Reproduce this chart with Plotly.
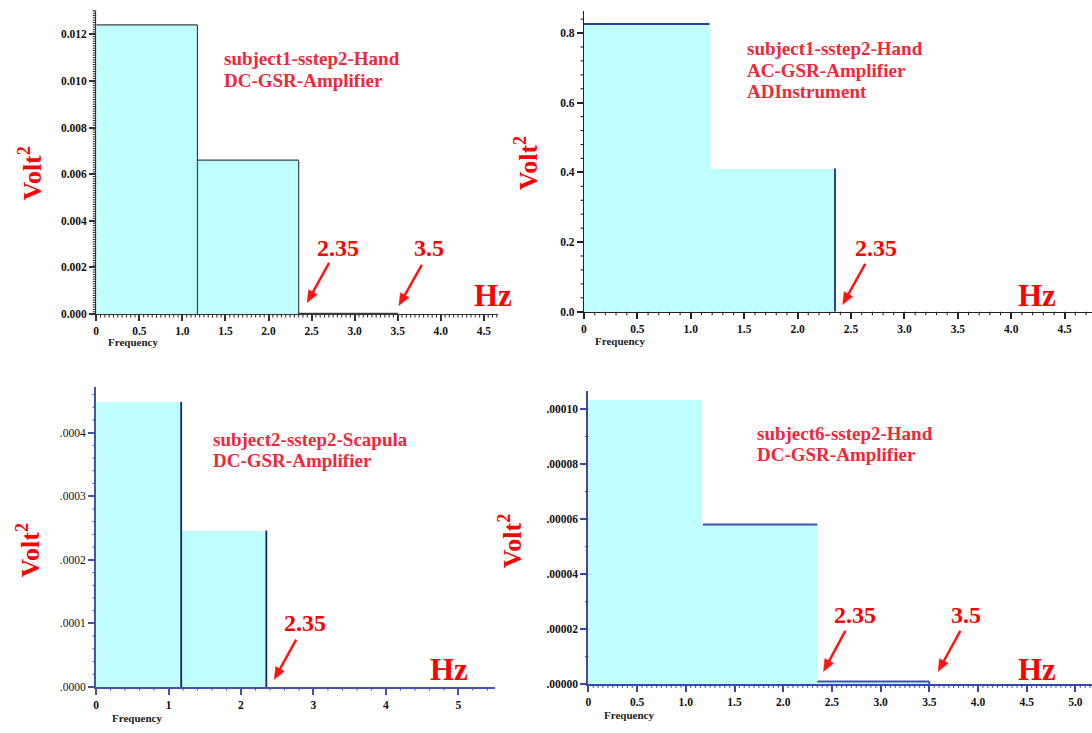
import math
import numpy as np
import plotly.graph_objects as go

# ---- spectral power per frequency band (Volt^2) ----
tl_edges = [0.0, 1.175, 2.35, 3.5]
tl_power = [0.01240, 0.00660, 0.00003]

tr_edges = [0.0, 1.175, 2.35]
tr_power = [0.826, 0.411]

bl_edges = [0.0, 1.175, 2.35]
bl_power = [0.000448, 0.000246]

br_edges = [0.0, 1.175, 2.35, 3.5]
br_power = [0.0001033, 0.0000580, 0.0000010]

# ---- tick labels ----
tl_xvals = [0, 0.5, 1.0, 1.5, 2.0, 2.5, 3.0, 3.5, 4.0, 4.5]
tl_xtext = ["0", "0.5", "1.0", "1.5", "2.0", "2.5", "3.0", "3.5", "4.0", "4.5"]
tl_yvals = [0, 0.002, 0.004, 0.006, 0.008, 0.010, 0.012]
tl_ytext = ["0.000", "0.002", "0.004", "0.006", "0.008", "0.010", "0.012"]

tr_xvals = tl_xvals
tr_xtext = tl_xtext
tr_yvals = [0, 0.2, 0.4, 0.6, 0.8]
tr_ytext = ["0.0", "0.2", "0.4", "0.6", "0.8"]

bl_xvals = [0, 1, 2, 3, 4, 5]
bl_xtext = ["0", "1", "2", "3", "4", "5"]
bl_yvals = [0, 0.0001, 0.0002, 0.0003, 0.0004]
bl_ytext = [".0000", ".0001", ".0002", ".0003", ".0004"]

br_xvals = [0, 0.5, 1.0, 1.5, 2.0, 2.5, 3.0, 3.5, 4.0, 4.5, 5.0]
br_xtext = ["0", "0.5", "1.0", "1.5", "2.0", "2.5", "3.0", "3.5", "4.0", "4.5", "5.0"]
br_yvals = [0, 0.00002, 0.00004, 0.00006, 0.00008, 0.00010]
br_ytext = [".00000", ".00002", ".00004", ".00006", ".00008", ".00010"]

# ---- panel titles ----
tl_title = ["subject1-sstep2-Hand", "DC-GSR-Amplifier"]
tr_title = ["subject1-sstep2-Hand", "AC-GSR-Amplifier", "ADInstrument"]
bl_title = ["subject2-sstep2-Scapula", "DC-GSR-Amplifier"]
br_title = ["subject6-sstep2-Hand", "DC-GSR-Amplifier"]

W, H = 1092, 733
FILL = "#bfffff"
SERIF = "Liberation Serif"
RED = "#ff0000"
TITLE_RED = "#f0283a"


def px(x):
    return x / W


def py(y):
    return 1 - y / H


def outline(edges, power, parts):
    """Line segments along chosen sides of the bars (None-separated)."""
    xs, ys = [], []
    for i, side in parts:
        x0, x1, v = edges[i], edges[i + 1], power[i]
        if side == "top":
            xs += [x0, x1, None]
            ys += [v, v, None]
        elif side == "right":
            xs += [x1, x1, None]
            ys += [0, v, None]
    return xs, ys


fig = go.Figure()
shapes = []
ann = []

panels = [
    dict(edges=tl_edges, power=tl_power, xd=[93.5, 496], xr=[0, 4.66],
         yd=[316.7, 11], yr=[0, 0.0130], xt=(tl_xvals, tl_xtext), yt=(tl_yvals, tl_ytext),
         ac="#333333", aw=1.2, xm=0.05, ym=0.0001, bold=True,
         parts=[(0, "top"), (0, "right"), (1, "top"), (1, "right"), (2, "top"), (2, "right")],
         lc="#404040", lw=1.2),
    dict(edges=tr_edges, power=tr_power, xd=[582.6, 1092], xr=[0, 4.756],
         yd=[314.3, 11], yr=[0, 0.8635], xt=(tr_xvals, tr_xtext), yt=(tr_yvals, tr_ytext),
         ac="#222222", aw=1.2, xm=0.1, ym=0.04, bold=True,
         parts=[(0, "top"), (1, "right")], lc="#2f3d9c", lw=2),
    dict(edges=bl_edges, power=bl_power, xd=[93.3, 493.7], xr=[0, 5.51],
         yd=[692.7, 390], yr=[0, 0.000472], xt=(bl_xvals, bl_xtext), yt=(bl_yvals, bl_ytext),
         ac="#4652b0", aw=2, xm=0.2, ym=0.00002, bold=False,
         parts=[(0, "right"), (1, "right")], lc="#1b1f6e", lw=1.8),
    dict(edges=br_edges, power=br_power, xd=[587, 1092], xr=[0, 5.17],
         yd=[690, 394], yr=[0, 0.0001066], xt=(br_xvals, br_xtext), yt=(br_yvals, br_ytext),
         ac="#3a48a8", aw=2, xm=0.05, ym=0.00001, bold=True,
         parts=[(1, "top"), (2, "top"), (2, "right")], lc="#4452ac", lw=2),
]


def minor_marks(p, values, length, width, on_x):
    """Short outward minor tick marks placed through the axis scale."""
    x0p, x1p = p["xd"]
    y0p, y1p = p["yd"]
    for v in values:
        if on_x:
            xp = x0p + (v - p["xr"][0]) / (p["xr"][1] - p["xr"][0]) * (x1p - x0p)
            if xp > W - 0.5:
                continue
            shapes.append(dict(type="line", xref="paper", yref="paper",
                               x0=px(xp), x1=px(xp), y0=py(y0p), y1=py(y0p + length),
                               line=dict(color=p["ac"], width=width)))
        else:
            yp = y0p + (v - p["yr"][0]) / (p["yr"][1] - p["yr"][0]) * (y1p - y0p)
            shapes.append(dict(type="line", xref="paper", yref="paper",
                               x0=px(x0p), x1=px(x0p - length), y0=py(yp), y1=py(yp),
                               line=dict(color=p["ac"], width=width)))


axes = {}
for k, p in enumerate(panels):
    sfx = "" if k == 0 else str(k + 1)
    xa, ya = "x" + sfx, "y" + sfx

    widths = [p["edges"][i + 1] - p["edges"][i] for i in range(len(p["power"]))]
    fig.add_trace(go.Bar(
        x=p["edges"][:-1], y=p["power"], width=widths, offset=0,
        marker=dict(color=FILL, line=dict(width=0)),
        xaxis=xa, yaxis=ya, showlegend=False, hoverinfo="skip",
    ))
    ox, oy = outline(p["edges"], p["power"], p["parts"])
    fig.add_trace(go.Scatter(
        x=ox, y=oy, mode="lines", line=dict(color=p["lc"], width=p["lw"]),
        xaxis=xa, yaxis=ya, showlegend=False, hoverinfo="skip",
    ))

    font = dict(family=SERIF, size=11.5, color="#111", weight="bold")
    yfont = dict(font, weight="bold" if p["bold"] else "normal")
    common = dict(showgrid=False, zeroline=False, ticks="outside", ticklen=6,
                  tickwidth=1.6, tickcolor=p["ac"], showline=True,
                  linecolor=p["ac"], linewidth=p["aw"], tickmode="array")
    axes["xaxis" + sfx] = dict(
        common, domain=[px(p["xd"][0]), px(p["xd"][1])], range=p["xr"], anchor=ya,
        tickvals=p["xt"][0], ticktext=p["xt"][1], tickfont=font)
    axes["yaxis" + sfx] = dict(
        common, domain=[py(p["yd"][0]), py(p["yd"][1])], range=p["yr"], anchor=xa,
        tickvals=p["yt"][0], ticktext=p["yt"][1], tickfont=yfont)

    xminor = np.arange(0, p["xr"][1] + 1e-12, p["xm"])
    yminor = np.arange(0, p["yr"][1] + 1e-15, p["ym"])
    minor_marks(p, [float(v) for v in xminor], 3.5, 1.1, True)
    minor_marks(p, [float(v) for v in yminor], 3.5, 1.1, False)

fig.update_layout(
    width=W, height=H, margin=dict(l=0, r=0, t=0, b=0),
    paper_bgcolor="white", plot_bgcolor="white", showlegend=False,
    bargap=0, **axes,
)


def text_at(x, y, s, size, color=RED, xanchor="center", angle=0):
    ann.append(dict(x=px(x), y=py(y), xref="paper", yref="paper", text=s,
                    showarrow=False, xanchor=xanchor, yanchor="middle",
                    textangle=angle,
                    font=dict(family=SERIF, size=size, color=color, weight="bold")))


def arrow(tail, head, color="#ff1414", head_len=12, head_w=10, width=2.5):
    """Straight arrow drawn as a line plus a filled triangular head."""
    dx, dy = head[0] - tail[0], head[1] - tail[1]
    n = math.hypot(dx, dy)
    ux, uy = dx / n, dy / n
    bx, by = head[0] - ux * head_len, head[1] - uy * head_len
    nx, ny = -uy, ux
    p1 = (bx + nx * head_w / 2, by + ny * head_w / 2)
    p2 = (bx - nx * head_w / 2, by - ny * head_w / 2)
    shapes.append(dict(type="line", xref="paper", yref="paper",
                       x0=px(tail[0]), y0=py(tail[1]), x1=px(bx + ux * 2), y1=py(by + uy * 2),
                       line=dict(color=color, width=width)))
    path = "M {} {} L {} {} L {} {} Z".format(
        px(head[0]), py(head[1]), px(p1[0]), py(p1[1]), px(p2[0]), py(p2[1]))
    shapes.append(dict(type="path", xref="paper", yref="paper", path=path,
                       fillcolor=color, line=dict(color=color, width=0.5)))


# panel titles
for lines, x0, ys in [
    (tl_title, 220, [59, 81]),
    (tr_title, 744.5, [49, 71, 92]),
    (bl_title, 209, [443, 464]),
    (br_title, 754, [437, 458]),
]:
    for s, y in zip(lines, ys):
        text_at(x0, y, s, 19, TITLE_RED, xanchor="left")

# y-axis quantity and frequency unit
for x, y in [(28, 175), (525, 165), (26, 555), (509, 546)]:
    text_at(x, y, "Volt<sup>2</sup>", 26, angle=-90)
for x, y in [(491, 298), (1037, 298), (447, 675), (1037, 675)]:
    text_at(x, y, "Hz", 31)

# x-axis name
for x, y in [(130, 345), (619, 344), (134, 724), (628, 721)]:
    text_at(x, y, "Frequency", 11, color="#222")

# cut-off frequency markers
for x, y, s in [(336, 250, "2.35"), (427, 250, "3.5"), (875, 250, "2.35"),
                (303, 628, "2.35"), (854, 620, "2.35"), (966, 620, "3.5")]:
    text_at(x, y, s, 24)

arrow((327, 265), (305, 305))
arrow((420, 267), (397, 308))
arrow((864.6, 266), (842, 307))
arrow((294, 645), (272, 685))
arrow((844.7, 636), (822.8, 677))
arrow((960, 636), (937.7, 677))

fig.update_layout(annotations=ann, shapes=shapes)
fig.write_html("out.html")
